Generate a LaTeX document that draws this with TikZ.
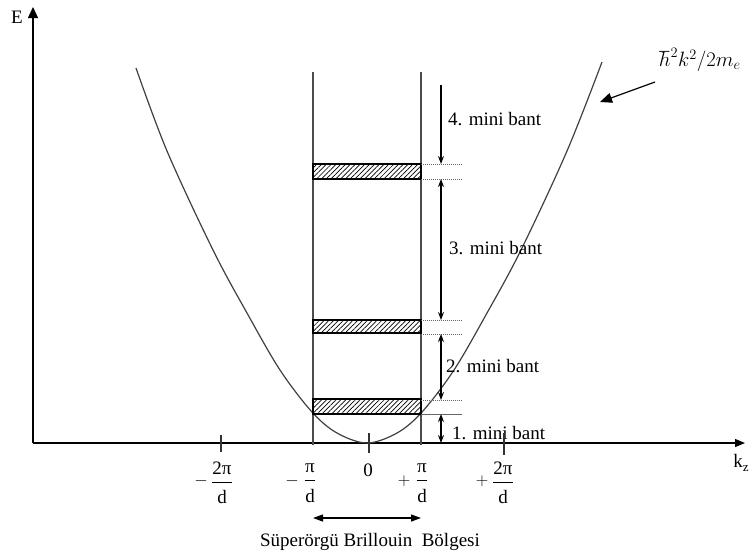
\documentclass[tikz,border=0pt]{standalone}
\usepackage{fontspec}
\setmainfont{Liberation Serif}
\usetikzlibrary{arrows.meta,patterns.meta}
\newcommand\myfr[1]{$\displaystyle\frac{\mbox{#1}}{\mbox{\raisebox{-6pt}{d}}}$}
\begin{document}
\begin{tikzpicture}[x=1pt,y=-1pt,font=\fontsize{19}{22}\selectfont,
  axisline/.style={line width=1.2pt,black},
  vline/.style={line width=1.2pt,black!70},
  curve/.style={line width=1.2pt,black!75},
  band/.style={line width=1.3pt,black,pattern={Lines[angle=45,distance=3.4pt,line width=0.7pt]}},
  dotline/.style={line width=0.9pt,black!60,dash pattern=on 1pt off 1pt},
  solidline/.style={line width=0.9pt,black!60},
  tick/.style={line width=1.2pt,black!80},
  gap/.style={line width=1.1pt,black},
  smalltip/.style={arrows={-{Stealth[length=8pt,width=6pt]}}},
  dbltip/.style={arrows={{Stealth[length=8pt,width=6pt]}-{Stealth[length=8pt,width=6pt]}}},
  lbl/.style={inner sep=0pt,anchor=west},
  ]
\useasboundingbox (0,0) rectangle (755,558);

% coordinates
\coordinate (O) at (33,443);
\coordinate (Etop) at (33,7);
\coordinate (Xend) at (745,443);
\coordinate (L1) at (313,72);  \coordinate (L2) at (313,445);
\coordinate (R1) at (421,72);  \coordinate (R2) at (421,445);

% axes
\draw[axisline,-{Triangle[length=11pt,width=10pt]}] (O) -- (Etop);
\draw[axisline,-{Triangle[length=10pt,width=8pt]}] (O) -- (Xend);
\node (E) at (17,17) {E};
\node (kz) at (741,463) {k\raisebox{-0.45ex}{\fontsize{13}{13}\selectfont z}};

% parabola
\draw[curve] plot[smooth,tension=0.55] coordinates {(136,68) (167,151) (213,250) (247,313) (280,370) (312,412) (337,433) (367,443) (397,433) (422,412) (454,370) (487,313) (521,250) (567,151) (602,62)};

% zone boundaries
\draw[vline] (L1) -- (L2);
\draw[vline] (R1) -- (R2);

% bands
\draw[band] (313,164) rectangle (421,179);
\draw[band] (313,320) rectangle (421,333);
\draw[band] (313,399) rectangle (421,414);

% dotted level lines
\coordinate (a1) at (421,164); \coordinate (b1) at (462,164);
\coordinate (a2) at (421,179); \coordinate (b2) at (462,179);
\coordinate (a3) at (421,320); \coordinate (b3) at (462,320);
\coordinate (a4) at (421,334); \coordinate (b4) at (462,334);
\coordinate (a5) at (421,400); \coordinate (b5) at (462,400);
\coordinate (a6) at (421,414); \coordinate (b6) at (462,414);
\draw[dotline] (a1) -- (b1);
\draw[dotline] (a2) -- (b2);
\draw[dotline] (a3) -- (b3);
\draw[dotline] (a4) -- (b4);
\draw[dotline] (a5) -- (b5);
\draw[solidline] (a6) -- (b6);

% mini band arrows
\coordinate (m4) at (441,85);
\draw[gap,smalltip] (m4) -- (441,164);
\draw[gap,dbltip] (441,179) -- (441,320);
\draw[gap,dbltip] (441,334) -- (441,400);
\draw[gap,dbltip] (441,414) -- (441,443);

\node[lbl] (t4) at (448,119) {4. mini bant};
\node[lbl] (t3) at (449,248) {3. mini bant};
\node[lbl] (t2) at (446,366) {2. mini bant};
\node[lbl] (t1) at (452,433) {1. mini bant};

% ticks
\draw[tick] (221,435) -- (221,452);
\draw[tick] (369,433) -- (369,453);
\draw[tick] (504,433) -- (504,455);

% tick labels
\node (m2a) at (201,481) {$-$};
\node (f2a) at (222,483) {\myfr{2π}};
\node (m1a) at (292,481) {$-$};
\node (f1a) at (310,483) {\myfr{π}};
\node (zero) at (368,470) {0};
\node (p1b) at (404,481) {$+$};
\node (f1b) at (422,483) {\myfr{π}};
\node (p2b) at (482,481) {$+$};
\node (f2b) at (503,483) {\myfr{2π}};

% Brillouin zone
\coordinate (BzL) at (313,518);
\coordinate (BzR) at (421,518);
\draw[line width=1.3pt,{Triangle[length=10pt,width=7pt]}-{Triangle[length=10pt,width=7pt]}] (BzL) -- (BzR);
\node (bz) at (370,542) {Süperörgü Brillouin~~Bölgesi};

% dispersion label
\node (disp) at (700,60) {\fontsize{20}{22}\selectfont $\hbar^2k^2/2m_e$};
\coordinate (dispA) at (655,82);
\coordinate (dispB) at (600,102);
\draw[line width=1.2pt,-{Triangle[length=12pt,width=10pt]}] (dispA) -- (dispB);
\end{tikzpicture}
\end{document}
